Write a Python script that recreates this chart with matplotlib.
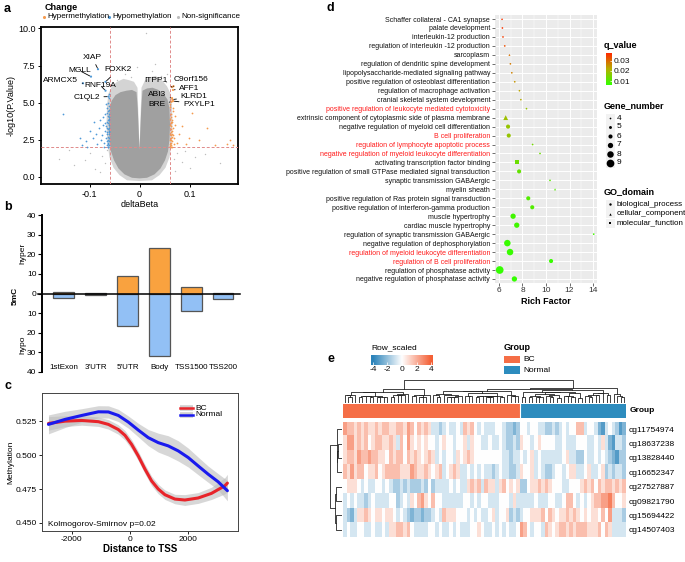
import numpy as np
import matplotlib
matplotlib.use("Agg")
import matplotlib.pyplot as plt
from matplotlib.colors import LinearSegmentedColormap, ListedColormap, Normalize
from matplotlib.patches import Rectangle

plt.rcParams["font.family"] = ["Liberation Sans", "DejaVu Sans"]
plt.rcParams["axes.unicode_minus"] = False

W, H = 685, 562

# ---------------- panel a: volcano ----------------
cloud_x = [0.0, -0.015, -0.03, -0.042, -0.051, -0.057, -0.06, -0.061, -0.06, -0.056, -0.048, -0.038,
           -0.026, -0.015, -0.006, -0.0035, -0.0015, 0.0, 0.0015, 0.0035, 0.006, 0.015, 0.026, 0.038,
           0.048, 0.056, 0.06, 0.061, 0.06, 0.057, 0.051, 0.042, 0.03, 0.015]
cloud_y = [-0.12, -0.08, 0.15, 0.55, 1.1, 1.7, 2.5, 3.5, 4.5, 5.1, 5.5, 5.7,
           5.8, 5.85, 5.7, 4.6, 3.0, 1.8, 3.0, 4.6, 5.8, 5.95, 6.0, 5.85,
           5.6, 5.2, 4.6, 3.5, 2.5, 1.7, 1.1, 0.55, 0.15, -0.08]
halo_x = [0.0, -0.025, -0.04, -0.052, -0.06, -0.064, -0.066, -0.065, -0.062, -0.055, -0.045, -0.032,
          -0.02, -0.011, -0.004, -0.0015, 0.0, 0.0015, 0.004, 0.011, 0.02, 0.032, 0.045, 0.055,
          0.062, 0.065, 0.066, 0.064, 0.06, 0.052, 0.04, 0.025]
halo_y = [-0.3, -0.25, 0.1, 0.6, 1.3, 2.2, 3.5, 4.8, 5.6, 6.1, 6.4, 6.6,
          6.5, 6.4, 6.0, 3.5, 1.8, 3.5, 6.0, 6.5, 6.7, 6.8, 6.5, 6.1,
          5.6, 4.8, 3.5, 2.2, 1.3, 0.6, 0.1, -0.25]
hypo_points = [(-0.061, 2.1), (-0.062, 2.4), (-0.063, 2.7), (-0.061, 3.0), (-0.064, 3.2), (-0.062, 3.5),
               (-0.065, 3.7), (-0.061, 3.9), (-0.063, 4.1), (-0.066, 4.3), (-0.062, 4.5), (-0.064, 2.2),
               (-0.061, 4.8), (-0.067, 3.4), (-0.063, 5.0), (-0.062, 5.3), (-0.068, 2.6), (-0.065, 2.9),
               (-0.061, 5.6), (-0.064, 3.8), (-0.070, 3.1), (-0.063, 2.0), (-0.072, 2.3), (-0.066, 4.6),
               (-0.075, 2.8), (-0.069, 3.6), (-0.078, 2.5), (-0.074, 4.0), (-0.082, 3.3), (-0.088, 2.9),
               (-0.094, 2.6), (-0.100, 3.1), (-0.108, 2.4), (-0.120, 2.6), (-0.153, 4.2), (-0.062, 4.0),
               (-0.064, 2.5), (-0.065, 3.3), (-0.066, 2.1), (-0.067, 4.9), (-0.071, 2.0), (-0.073, 3.5),
               (-0.085, 2.2), (-0.061, 3.3), (-0.063, 3.6), (-0.062, 2.9), (-0.064, 4.4), (-0.069, 4.2),
               (-0.079, 3.8), (-0.091, 3.7), (-0.116, 2.1), (-0.105, 2.0), (-0.061, 2.6), (-0.062, 3.1),
               (-0.063, 2.3), (-0.061, 4.2), (-0.065, 2.4), (-0.062, 3.8), (-0.066, 3.0), (-0.064, 2.0)]
hyper_points = [(0.061, 2.05), (0.062, 2.3), (0.063, 2.6), (0.061, 2.9), (0.064, 3.1), (0.062, 3.4),
                (0.065, 3.7), (0.061, 3.9), (0.063, 4.2), (0.066, 4.4), (0.062, 2.15), (0.064, 2.7),
                (0.061, 4.7), (0.067, 3.3), (0.063, 2.45), (0.062, 3.6), (0.068, 2.2), (0.065, 2.9),
                (0.061, 4.9), (0.064, 3.8), (0.069, 2.6), (0.063, 3.0), (0.071, 3.5), (0.066, 4.6),
                (0.074, 2.3), (0.062, 2.0), (0.065, 2.4), (0.070, 4.1), (0.078, 2.9), (0.085, 3.4),
                (0.092, 2.2), (0.098, 2.6), (0.105, 4.3), (0.118, 2.5), (0.135, 3.3), (0.150, 2.1),
                (0.175, 2.2), (0.180, 2.5), (0.186, 2.1), (0.063, 3.2), (0.064, 2.0), (0.066, 2.8),
                (0.061, 2.5), (0.062, 2.8), (0.061, 3.5), (0.062, 4.0), (0.063, 3.7), (0.061, 2.2)]
nonsig_points = [(0.012, 9.7), (-0.030, 6.9), (0.024, 7.1), (0.042, 6.8), (-0.046, 6.5), (0.052, 6.4),
                 (-0.018, 6.7), (-0.160, 1.2), (-0.130, 0.8), (0.160, 0.9), (0.130, 1.5), (-0.110, 1.1),
                 (0.100, 0.6), (-0.090, 0.5), (0.085, 1.0), (-0.075, 1.4), (0.075, 1.6), (-0.140, 1.8),
                 (-0.005, 7.4), (0.030, 7.6), (0.055, 6.9), (-0.055, 6.2), (-0.070, 0.9), (0.068, 1.2),
                 (-0.065, 1.8), (0.070, 0.4), (-0.080, 0.3), (0.090, 1.7), (-0.100, 1.6), (0.110, 1.3)]
gene_names = ["XIAP", "MGLL", "ARMCX5", "FOXK2", "RNF19A", "C1QL2",
              "ITPP1", "C9orf156", "AFF1", "ABI3", "KLRD1", "BRE", "PXYLP1"]
gene_dbeta = [-0.083, -0.097, -0.113, -0.068, -0.068, -0.062,
              0.065, 0.068, 0.067, 0.065, 0.066, 0.064, 0.067]
gene_logp = [7.25, 6.75, 6.3, 6.4, 5.8, 5.4, 6.05, 6.1, 5.85, 5.3, 5.2, 5.05, 5.1]

# ---------------- panel b: region counts ----------------
regions = ["1stExon", "3'UTR", "5'UTR", "Body", "TSS1500", "TSS200"]
hyper_counts = [1, 0.5, 9, 23, 3.5, 0.5]
hypo_counts = [2.5, 1, 16.5, 32, 9, 3]

# ---------------- panel c: methylation around TSS ----------------
bc_x = [-2793, -2222, -1654, -1083, -741, -400, -171, 55, 283, 513, 740, 968, 1197, 1539, 1880,
        2335, 2790, 3248, 3337]
bc_y = [0.5235, 0.5252, 0.5257, 0.5248, 0.5228, 0.519, 0.5147, 0.508, 0.4995, 0.4897, 0.481,
        0.475, 0.4708, 0.4676, 0.4669, 0.4684, 0.4718, 0.4774, 0.4794]
bc_se = [0.005, 0.004, 0.0035, 0.0035, 0.0035, 0.0035, 0.0035, 0.0035, 0.0035, 0.0035, 0.0035,
         0.0035, 0.0035, 0.0035, 0.004, 0.004, 0.0045, 0.006, 0.0065]
normal_x = [-2793, -2222, -1654, -1083, -741, -400, -57, 283, 626, 968, 1311, 1653, 1994, 2335,
            2677, 3018, 3337]
normal_y = [0.5228, 0.5265, 0.5294, 0.5321, 0.532, 0.5294, 0.5245, 0.5186, 0.513, 0.5093, 0.5069,
            0.5032, 0.4983, 0.4921, 0.486, 0.4804, 0.4738]
normal_se = [0.007, 0.006, 0.005, 0.0045, 0.0045, 0.0045, 0.0045, 0.005, 0.006, 0.007, 0.0075,
             0.0075, 0.007, 0.0065, 0.006, 0.006, 0.0075]

# ---------------- panel d: GO enrichment ----------------
go_terms = ["Schaffer collateral - CA1 synapse", "palate development", "interleukin-12 production",
            "regulation of interleukin -12 production", "sarcoplasm",
            "regulation of dendritic spine development", "lipopolysaccharide-mediated signaling pathway",
            "positive regulation of osteoblast differentiation", "regulation of macrophage activation",
            "cranial skeletal system development", "positive regulation of leukocyte mediated cytotoxicity",
            "extrinsic component of cytoplasmic side of plasma membrane",
            "negative regulation of myeloid cell differentiation", "B cell proliferation",
            "regulation of lymphocyte apoptotic process",
            "negative regulation of myeloid leukocyte differentiation",
            "activating transcription factor binding",
            "positive regulation of small GTPase mediated signal transduction",
            "synaptic transmission GABAergic", "myelin sheath",
            "positive regulation of Ras protein signal transduction",
            "positive regulation of interferon-gamma production", "muscle hypertrophy",
            "cardiac muscle hypertrophy", "regulation of synaptic transmission GABAergic",
            "negative regulation of dephosphorylation", "regulation of myeloid leukocyte differentiation",
            "regulation of B cell proliferation", "regulation of phosphatase activity",
            "negative regulation of phosphatase activity"]
rich_factor = [6.26, 6.29, 6.34, 6.49, 6.89, 6.97, 7.09, 7.34, 7.74, 7.86, 8.34, 6.57, 6.77, 6.83,
               8.86, 9.49, 7.49, 7.71, 10.34, 10.77, 8.49, 8.83, 7.2, 7.51, 14.06, 6.71, 6.94,
               10.43, 6.06, 7.31]
gene_number = [4, 4, 4, 4, 4, 4, 4, 4, 4, 4, 4, 6, 6, 6, 4, 4, 6, 6, 4, 4, 6, 6, 7, 7, 4, 8, 8, 6, 9, 7]
q_value = [0.036, 0.036, 0.035, 0.033, 0.029, 0.028, 0.027, 0.025, 0.023, 0.022, 0.018, 0.019,
           0.018, 0.018, 0.014, 0.013, 0.013, 0.012, 0.011, 0.010, 0.010, 0.010, 0.008, 0.008,
           0.008, 0.007, 0.007, 0.007, 0.0065, 0.0065]
go_domain = ["CC", "BP", "BP", "BP", "CC", "BP", "BP", "BP", "BP", "BP", "BP", "CC", "BP", "BP", "BP",
             "BP", "MF", "BP", "BP", "CC", "BP", "BP", "BP", "BP", "BP", "BP", "BP", "BP", "BP", "BP"]
highlighted_terms = ["positive regulation of leukocyte mediated cytotoxicity", "B cell proliferation",
                     "regulation of lymphocyte apoptotic process",
                     "negative regulation of myeloid leukocyte differentiation",
                     "regulation of myeloid leukocyte differentiation", "regulation of B cell proliferation"]

# ---------------- panel e: heatmap ----------------
probes = ["cg11754974", "cg18637238", "cg13828440", "cg16652347",
          "cg27527887", "cg09821790", "cg15694422", "cg14507403"]
sample_groups = ["BC"] * 50 + ["Normal"] * 30
# one digit per sample, 4 = 0, each step = 0.8 of row-scaled value
heat_rows = [
    "7665656556 5665566576 4656533234 3343656434 3334432212 4434433223 2343446634 4310343201",
    "5775656456 6556536475 4545443454 4344535443 3433432232 5443454444 3343334443 3435310332",
    "5665766766 5546566465 6545653434 4354565444 4444433233 4345343333 3345332243 3434321022",
    "6575664556 4566665557 6556545634 5653343434 3323433223 5445343223 4434553345 3345232332",
    "4555434334 4343223232 2232423333 4343356563 6553564545 2245565654 4433444565 6465665656",
    "3434332343 3334423435 4675464433 3333443434 4333444353 3333433344 3346643434 5667786445",
    "3213556545 5455434321 2212234365 5544434343 3453445232 3445556465 4556565454 5546473332",
    "3433443343 3435566564 3333443433 4343334454 3343434334 7643443654 5665656665 5564653333",
]


def px_axes(fig, l, t, r, b):
    return fig.add_axes([l / W, 1 - b / H, (r - l) / W, (b - t) / H])


def adjacent_ward(vectors):
    # agglomerative clustering that only merges neighbours, so leaf order is kept
    clusters = [(i + 0.5, 0.0, np.asarray(v, float), 1) for i, v in enumerate(vectors)]
    links = []
    while len(clusters) > 1:
        best, bi = None, 0
        for i in range(len(clusters) - 1):
            _, _, ca, na = clusters[i]
            _, _, cb, nb = clusters[i + 1]
            d = np.sqrt(2 * na * nb / (na + nb)) * np.linalg.norm(ca - cb)
            if best is None or d < best:
                best, bi = d, i
        xa, ha, ca, na = clusters[bi]
        xb, hb, cb, nb = clusters[bi + 1]
        h = max(best, ha, hb)
        links.append((xa, ha, xb, hb, h))
        clusters[bi:bi + 2] = [((xa + xb) / 2, h, (ca * na + cb * nb) / (na + nb), na + nb)]
    return links


def dot_size(n):
    diam_px = 1.7 + (n - 4) * 1.2
    return (diam_px * 0.72) ** 2


fig = plt.figure(figsize=(6.85, 5.62), dpi=100)

# ---- a ----
ax = px_axes(fig, 41, 27, 238, 184)
ax.fill(halo_x, halo_y, color="#d4d4d4", lw=0, zorder=1)
ax.fill(cloud_x, cloud_y, color="#a0a0a0", lw=0, zorder=2)
ng = np.array(nonsig_points)
ax.scatter(ng[:, 0], ng[:, 1], s=1, color="#bdbdbd", lw=0, zorder=2)
for v in (-0.06, 0.06):
    ax.axvline(v, color="#e08a8a", lw=0.7, ls=(0, (3, 2)), zorder=3)
ax.axhline(2, color="#e08a8a", lw=0.7, ls=(0, (3, 2)), zorder=3)
hp = np.array(hypo_points)
ax.scatter(hp[:, 0], hp[:, 1], s=1.6, color="#4f9ad8", lw=0, zorder=4)
hy = np.array(hyper_points)
ax.scatter(hy[:, 0], hy[:, 1], s=1.6, color="#f59a4e", lw=0, zorder=4)
gene_colors = ["#4f9ad8" if d < 0 else "#f59a4e" for d in gene_dbeta]
ax.scatter(gene_dbeta, gene_logp, s=2.5, color=gene_colors, lw=0, zorder=4)
label_pos = [(-0.095, 8.07), (-0.119, 7.14), (-0.158, 6.49), (-0.043, 7.2), (-0.078, 6.15),
             (-0.106, 5.36), (0.032, 6.49), (0.103, 6.53), (0.1, 5.97), (0.035, 5.52),
             (0.109, 5.4), (0.034, 4.89), (0.119, 4.89)]
for name, gx, gy, (tx, ty) in zip(gene_names, gene_dbeta, gene_logp, label_pos):
    ax.annotate(name, xy=(gx, gy), xytext=(tx, ty), ha="center", va="center", fontsize=6,
                arrowprops=dict(arrowstyle="-", lw=0.6, color="k", shrinkA=1, shrinkB=1), zorder=5)
ax.set_xlim(-0.197, 0.197)
ax.set_ylim(-0.5, 10.1)
ax.set_xticks([-0.1, 0, 0.1])
ax.set_xticklabels(["-0.1", "0", "0.1"])
ax.set_yticks([0, 2.5, 5, 7.5, 10])
ax.set_yticklabels(["0.0", "2.5", "5.0", "7.5", "10.0"])
ax.tick_params(labelsize=6.5, length=2.5, width=0.7, pad=1.5)
for s in ax.spines.values():
    s.set_linewidth(1.3)
ax.set_xlabel("deltaBeta", fontsize=6.5, labelpad=1)
ax.set_ylabel("-log10(P.Value)", fontsize=6.5, labelpad=2)

# ---- b ----
ax = px_axes(fig, 42, 215, 240, 372)
xb = np.arange(len(regions))
ax.bar(xb, hyper_counts, width=0.645, color="#f9a23f", edgecolor="#555555", lw=0.9)
ax.bar(xb, [-v for v in hypo_counts], width=0.645, color="#92c0f5", edgecolor="#555555", lw=0.9)
ax.plot([-0.8, 5.53], [0, 0], color="k", lw=1.1, clip_on=False)
for xi, name in zip(xb, regions):
    ax.text(xi, -37.5, name, ha="center", va="center", fontsize=5.8)
ax.set_xlim(-0.68, 5.53)
ax.set_ylim(-40, 40)
ticks = np.arange(-40, 41, 10)
ax.set_yticks(ticks)
ax.set_yticklabels([str(abs(t)) for t in ticks])
ax.set_xticks([])
ax.tick_params(axis="y", labelsize=6, length=3, width=0.8, pad=1)
for k in ("top", "right", "bottom"):
    ax.spines[k].set_visible(False)
ax.spines["left"].set_linewidth(1.4)
ax.patch.set_alpha(0)

# ---- c ----
ax = px_axes(fig, 42, 393, 238, 531)
ax.fill_between(bc_x, np.array(bc_y) - bc_se, np.array(bc_y) + bc_se, color="#bdbdbd", alpha=0.6, lw=0)
ax.fill_between(normal_x, np.array(normal_y) - normal_se, np.array(normal_y) + normal_se,
                color="#bdbdbd", alpha=0.6, lw=0)
ax.plot(bc_x, bc_y, color="#e8242a", lw=2.2, solid_capstyle="round", solid_joinstyle="round")
ax.plot(normal_x, normal_y, color="#1a1aee", lw=2.2, solid_capstyle="round", solid_joinstyle="round")
ax.set_xlim(-3015, 3700)
ax.set_ylim(0.444, 0.546)
ax.set_xticks([-2000, 0, 2000])
ax.set_yticks([0.45, 0.475, 0.5, 0.525])
ax.set_yticklabels(["0.450", "0.475", "0.500", "0.525"])
ax.tick_params(labelsize=6, length=2, width=0.6, pad=1.5)
for s in ax.spines.values():
    s.set_linewidth(0.7)
    s.set_color("#444444")
ax.text(-2800, 0.4485, "Kolmogorov-Smirnov p=0.02", fontsize=6, va="center")
ax.set_xlabel("Distance to TSS", fontsize=7, fontweight="bold", labelpad=1)
ax.set_ylabel("Methylation", fontsize=6, labelpad=1)

# ---- d ----
ax = px_axes(fig, 495, 15, 597, 283)
ax.set_facecolor("#ebebeb")
qcmap = LinearSegmentedColormap.from_list("q", ["#33ff00", "#b5b000", "#ff2a00"])
qnorm = Normalize(0.0063, 0.0373)
ypos = np.arange(len(go_terms))
rf = np.array(rich_factor)
gn = np.array(gene_number)
qv = np.array(q_value)
for dom, mk, scale in (("BP", "o", 1.0), ("CC", "^", 1.4), ("MF", "s", 0.9)):
    idx = np.array([i for i, d in enumerate(go_domain) if d == dom])
    ax.scatter(rf[idx], ypos[idx], s=dot_size(gn[idx]) * scale, c=qv[idx], cmap=qcmap, norm=qnorm,
               marker=mk, lw=0, zorder=3)
ax.set_xlim(5.66, 14.34)
ax.set_ylim(len(go_terms) - 0.55, -0.45)
ax.set_xticks([6, 8, 10, 12, 14])
ax.set_xticks([7, 9, 11, 13], minor=True)
ax.set_yticks(ypos)
ax.set_yticklabels(go_terms)
ax.grid(which="major", color="white", lw=0.7)
ax.grid(which="minor", axis="x", color="white", lw=0.35)
ax.set_axisbelow(True)
ax.tick_params(axis="y", labelsize=5, length=2, width=0.5, pad=1.5, colors="#333333")
ax.tick_params(axis="x", labelsize=6, length=2, width=0.5, pad=1, colors="#333333")
ax.tick_params(which="minor", length=0)
for lab in ax.get_yticklabels():
    if lab.get_text() in highlighted_terms:
        lab.set_color("#ff1a1a")
    else:
        lab.set_color("#111111")
for s in ax.spines.values():
    s.set_visible(False)
ax.set_xlabel("Rich Factor", fontsize=6.5, fontweight="bold", labelpad=2)

# q colorbar
cax = px_axes(fig, 606, 53, 612, 85)
cax.imshow(np.linspace(0.0373, 0.0063, 100)[:, None], cmap=qcmap, norm=qnorm, aspect="auto",
           extent=(0, 1, 0.0063, 0.0373))
cax.set_xticks([])
cax.yaxis.tick_right()
cax.set_yticks([0.01, 0.02, 0.03])
cax.set_yticklabels(["0.01", "0.02", "0.03"])
cax.tick_params(axis="y", labelsize=6, length=1.5, width=0.5, pad=1.5, colors="white",
                labelcolor="#111111", direction="in")
for s in cax.spines.values():
    s.set_visible(False)

# ---- e ----
heat = np.array([[(int(c) - 4) * 0.8 for c in "".join(r.split())] for r in heat_rows])
ncol = heat.shape[1]
hcmap = LinearSegmentedColormap.from_list("h", ["#2b83ba", "#ffffff", "#f46036"])
ax = px_axes(fig, 343, 422, 626, 537)
ax.imshow(heat, cmap=hcmap, vmin=-4, vmax=4, aspect="auto", interpolation="nearest",
          extent=(0, ncol, len(probes), 0))
ax.set_xticks([])
ax.yaxis.tick_right()
ax.set_yticks(np.arange(len(probes)) + 0.5)
ax.set_yticklabels(probes)
ax.tick_params(axis="y", labelsize=6, length=0, pad=2)
for s in ax.spines.values():
    s.set_visible(False)

gax = px_axes(fig, 343, 404, 626, 418)
codes = np.array([0 if g == "BC" else 1 for g in sample_groups])
gax.imshow(codes[None, :], cmap=ListedColormap(["#f56e46", "#2d8cbe"]), vmin=0, vmax=1,
           aspect="auto", interpolation="nearest", extent=(0, ncol, 1, 0))
gax.axvline(codes.tolist().index(1), color="white", lw=0.8)
gax.set_xticks([])
gax.set_yticks([])
for s in gax.spines.values():
    s.set_visible(False)

# dendrogram heights drawn on a compressed (power) scale, like a trimmed tree
dax = px_axes(fig, 343, 380, 626, 403)
links = adjacent_ward(heat.T)
for xa, ha, xb2, hb, h in links:
    dax.plot([xa, xa, xb2, xb2], [ha ** 0.55, h ** 0.55, h ** 0.55, hb ** 0.55],
             color="#222222", lw=0.6)
dax.set_xlim(0, ncol)
dax.set_ylim(0, max(l[4] for l in links) ** 0.55 * 1.02)
dax.axis("off")

rax = px_axes(fig, 330, 422, 342, 537)
rlinks = adjacent_ward(heat)
for ya, ha, yb, hb, h in rlinks:
    rax.plot([ha, h, h, hb], [ya, ya, yb, yb], color="#222222", lw=0.6)
rax.set_ylim(len(probes), 0)
rax.set_xlim(max(l[4] for l in rlinks) * 1.02, 0)
rax.axis("off")

# heatmap colour key
kax = px_axes(fig, 371, 355, 433, 365)
kax.imshow(np.linspace(-4.25, 4.25, 200)[None, :], cmap=hcmap, vmin=-4, vmax=4, aspect="auto",
           extent=(-4.25, 4.25, 0, 1))
kax.set_xticks([-4, -2, 0, 2, 4])
kax.set_xticklabels(["-4", "-2", "0", "2", "4"])
kax.set_yticks([])
kax.tick_params(axis="x", labelsize=6, length=2, width=0.5, direction="in", colors="white",
                labelcolor="#111111", pad=1)
for s in kax.spines.values():
    s.set_visible(False)

# ---- overlay: panel letters and legends ----
ov = fig.add_axes([0, 0, 1, 1])
ov.set_xlim(0, W)
ov.set_ylim(H, 0)
ov.axis("off")
for letter, (lx, ly) in zip("abcde", [(7, 9), (8, 207), (8, 386), (330, 8), (331, 359)]):
    ov.text(lx, ly, letter, fontsize=9, fontweight="bold", ha="center", va="center")

# a legend
ov.text(45, 7, "Change", fontsize=6.5, fontweight="bold", va="center")
for (lx, col, lab) in [(44, "#f59a4e", "Hypermethylation"), (109, "#4f9ad8", "Hypomethylation"),
                       (178, "#bdbdbd", "Non-significance")]:
    ov.scatter([lx], [17], s=5, color=col, lw=0)
    ov.text(lx + 3.5, 17, lab, fontsize=5.8, va="center")

# b axis titles
ov.text(22.5, 253, "hyper", fontsize=6, rotation=90, ha="center", va="center")
ov.text(15, 296, "5mC", fontsize=6, fontweight="bold", rotation=90, ha="center", va="center")
ov.text(22.5, 345, "hypo", fontsize=6, rotation=90, ha="center", va="center")

# c legend
for ly, col, lab in [(408, "#e8242a", "BC"), (415, "#1a1aee", "Normal")]:
    ov.plot([180, 193], [ly, ly], color="#cfcfcf", lw=4, solid_capstyle="butt")
    ov.plot([180, 193], [ly, ly], color=col, lw=1.8)
    ov.text(195, ly, lab, fontsize=6, va="center")

# d legends
ov.text(604, 46, "q_value", fontsize=6.5, fontweight="bold", va="center")
ov.text(604, 106, "Gene_number", fontsize=6.5, fontweight="bold", va="center")
for k, n in enumerate([4, 5, 6, 7, 8, 9]):
    yy = 118 + 9 * k
    ov.add_patch(Rectangle((606, yy - 4.5), 9, 9, color="#f2f2f2", lw=0))
    ov.scatter([610.5], [yy], s=dot_size(n), color="k", lw=0)
    ov.text(617, yy, str(n), fontsize=6, va="center")
ov.text(604, 192, "GO_domain", fontsize=6.5, fontweight="bold", va="center")
for k, (mk, lab) in enumerate([("o", "biological_process"), ("^", "cellular_component"),
                               ("s", "molecular_function")]):
    yy = 204 + 9.5 * k
    ov.add_patch(Rectangle((606, yy - 4.5), 9, 9, color="#f2f2f2", lw=0))
    ov.scatter([610.5], [yy], s=3, color="k", marker=mk, lw=0)
    ov.text(617, yy, lab, fontsize=5.8, va="center")

# e legends
ov.text(371, 348, "Row_scaled", fontsize=6, va="center")
ov.text(504, 348, "Group", fontsize=6.5, fontweight="bold", va="center")
ov.add_patch(Rectangle((504, 356), 16, 7, color="#f56e46", lw=0))
ov.text(523, 359.5, "BC", fontsize=6, va="center")
ov.add_patch(Rectangle((504, 366), 16, 7.5, color="#2d8cbe", lw=0))
ov.text(523, 370, "Normal", fontsize=6, va="center")
ov.text(630, 411, "Group", fontsize=6, fontweight="bold", va="center")

fig.savefig("out.png", dpi=100)
